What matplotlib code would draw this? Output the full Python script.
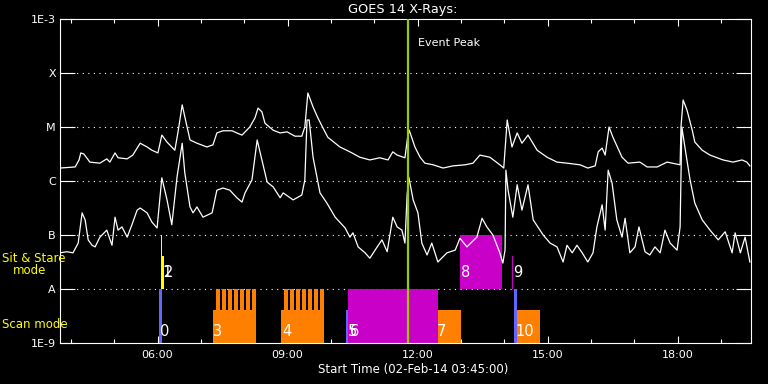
import numpy as np
import matplotlib
matplotlib.use('Agg')
import matplotlib.pyplot as plt

# GOES 14 X-ray flux, time in hours (UT) on 02-Feb-14, flux as log10(W/m^2)
long_t = [3.75, 4.10, 4.19, 4.23, 4.30, 4.44, 4.67, 4.83, 4.90, 5.02,
          5.09, 5.30, 5.43, 5.60, 5.76, 5.87, 6.01, 6.10, 6.22, 6.40,
          6.47, 6.57, 6.63, 6.75, 6.91, 7.14, 7.28, 7.37, 7.51, 7.72,
          7.83, 7.95, 8.13, 8.25, 8.32, 8.41, 8.48, 8.67, 8.83, 8.99,
          9.17, 9.33, 9.40, 9.47, 9.59, 9.70, 9.82, 9.93, 10.21, 10.44,
          10.67, 10.90, 11.13, 11.32, 11.43, 11.53, 11.71, 11.77, 11.81, 11.94,
          12.06, 12.17, 12.36, 12.59, 12.82, 13.10, 13.28, 13.44, 13.67, 13.90,
          13.99, 14.07, 14.18, 14.30, 14.41, 14.55, 14.76, 14.99, 15.22, 15.45,
          15.75, 15.93, 16.10, 16.17, 16.26, 16.33, 16.42, 16.51, 16.72, 16.86,
          17.13, 17.30, 17.53, 17.76, 18.06, 18.08, 18.13, 18.22, 18.34, 18.40,
          18.57, 18.75, 19.05, 19.28, 19.49, 19.60, 19.67]
long_lg = [-5.76, -5.74, -5.61, -5.48, -5.50, -5.65, -5.67, -5.59, -5.65, -5.48,
           -5.57, -5.59, -5.52, -5.30, -5.37, -5.43, -5.48, -5.15, -5.28, -5.43,
           -5.11, -4.59, -4.81, -5.24, -5.30, -5.37, -5.33, -5.11, -5.07, -5.07,
           -5.11, -5.15, -5.00, -4.83, -4.65, -4.72, -4.93, -5.06, -5.11, -5.09,
           -5.17, -5.17, -5.00, -4.37, -4.63, -4.83, -5.02, -5.19, -5.37, -5.46,
           -5.56, -5.61, -5.57, -5.61, -5.46, -5.52, -5.57, -5.20, -5.06, -5.37,
           -5.56, -5.67, -5.70, -5.76, -5.72, -5.70, -5.67, -5.52, -5.56, -5.70,
           -5.76, -4.87, -5.37, -5.11, -5.30, -5.15, -5.43, -5.56, -5.65, -5.67,
           -5.70, -5.76, -5.72, -5.46, -5.39, -5.52, -5.00, -5.19, -5.56, -5.67,
           -5.65, -5.74, -5.74, -5.65, -5.70, -5.00, -4.50, -4.69, -5.06, -5.28,
           -5.43, -5.52, -5.61, -5.65, -5.61, -5.65, -5.72]

short_t = [3.75, 3.91, 4.05, 4.17, 4.26, 4.33, 4.40, 4.49, 4.56, 4.67,
           4.83, 4.95, 5.02, 5.09, 5.18, 5.30, 5.41, 5.53, 5.60, 5.76,
           5.87, 5.99, 6.10, 6.22, 6.33, 6.45, 6.57, 6.63, 6.75, 6.82,
           6.91, 7.05, 7.26, 7.37, 7.51, 7.67, 7.83, 7.95, 8.02, 8.18,
           8.30, 8.41, 8.53, 8.67, 8.83, 8.90, 9.13, 9.33, 9.40, 9.45,
           9.50, 9.59, 9.75, 9.91, 10.10, 10.33, 10.44, 10.51, 10.63, 10.79,
           10.90, 11.07, 11.18, 11.30, 11.43, 11.53, 11.64, 11.71, 11.76, 11.80,
           11.90, 12.01, 12.10, 12.22, 12.33, 12.47, 12.68, 12.87, 12.98, 13.14,
           13.37, 13.49, 13.60, 13.74, 13.90, 13.97, 14.02, 14.04, 14.09, 14.20,
           14.30, 14.41, 14.55, 14.67, 14.90, 15.06, 15.22, 15.36, 15.45, 15.57,
           15.68, 15.80, 15.93, 16.05, 16.14, 16.26, 16.33, 16.40, 16.49, 16.60,
           16.72, 16.79, 16.90, 17.02, 17.11, 17.25, 17.36, 17.48, 17.60, 17.71,
           17.83, 17.99, 18.06, 18.10, 18.17, 18.29, 18.40, 18.57, 18.75, 18.94,
           19.10, 19.26, 19.33, 19.45, 19.56, 19.67]
short_lg = [-7.33, -7.31, -7.33, -7.15, -6.59, -6.72, -7.09, -7.19, -7.22, -7.04,
            -6.91, -7.19, -6.67, -6.91, -6.85, -7.04, -6.81, -6.54, -6.50, -6.59,
            -6.76, -6.87, -5.94, -6.35, -6.81, -5.93, -5.30, -5.85, -6.48, -6.59,
            -6.48, -6.67, -6.59, -6.17, -6.13, -6.17, -6.31, -6.39, -6.22, -5.98,
            -5.24, -5.61, -6.02, -6.11, -6.31, -6.22, -6.35, -6.26, -5.98, -4.87,
            -4.87, -5.56, -6.22, -6.41, -6.67, -6.87, -7.04, -6.96, -7.22, -7.33,
            -7.43, -7.22, -7.09, -7.31, -6.67, -6.85, -6.91, -7.15, -6.26, -5.93,
            -6.35, -6.59, -7.15, -7.37, -7.15, -7.50, -7.33, -7.28, -7.06, -7.22,
            -7.04, -6.69, -6.85, -7.00, -7.33, -7.52, -7.28, -5.80, -6.17, -6.67,
            -6.07, -6.54, -6.07, -6.72, -7.00, -7.15, -7.22, -7.50, -7.19, -7.33,
            -7.19, -7.33, -7.50, -7.33, -6.85, -6.44, -6.91, -5.80, -6.04, -6.72,
            -7.04, -6.69, -7.33, -7.22, -6.85, -7.31, -7.37, -7.22, -7.33, -6.91,
            -7.15, -7.28, -6.85, -5.00, -5.37, -5.98, -6.41, -6.72, -6.91, -7.09,
            -6.94, -7.33, -6.96, -7.33, -7.04, -7.50]

# observation blocks: start / end (hours), flux range, kind
obs_t0 = [7.29, 8.85, 12.45, 14.27, 10.40, 12.98, 14.18, 6.03, 10.35, 14.23, 6.08, 6.08]
obs_t1 = [8.27, 9.84, 13.00, 14.83, 12.47, 13.94, 14.21, 6.10, 10.40, 14.29, 6.115, 6.14]
obs_lo = [1e-9, 1e-9, 1e-9, 1e-9, 1e-9, 1e-8, 1e-8, 1e-9, 1e-9, 1e-9, 1e-8, 1e-8]
obs_hi = [4.1e-9, 4.1e-9, 4.1e-9, 4.1e-9, 1e-8, 1e-7, 4.1e-8, 1e-8, 4.1e-9, 1e-8, 1e-7, 4.1e-8]
obs_kind = ['raster', 'raster', 'raster', 'raster', 'multi', 'multi', 'multi',
            'scan', 'scan', 'scan', 'sit', 'sit']

# raster steps (start hours) drawn as comb teeth above rasters 3 and 4
step_t0 = [7.35, 7.49, 7.63, 7.77, 7.90, 8.04, 8.18,
           8.92, 9.06, 9.20, 9.34, 9.47, 9.61, 9.75]
step_len = 0.09

obs_labels = ['0', '1', '2', '3', '4', '5', '6', '7', '8', '9', '10']
label_t = [6.06, 6.11, 6.15, 7.29, 8.87, 10.40, 10.44, 12.45, 13.00, 14.20, 14.27]
label_row = ['scan', 'sit', 'sit', 'scan', 'scan', 'scan', 'scan', 'scan', 'sit', 'sit', 'scan']

peak_t = 11.78

yticks = [1e-9, 1e-8, 1e-7, 1e-6, 1e-5, 1e-4, 1e-3]
ylabels = ['1E-9', 'A', 'B', 'C', 'M', 'X', '1E-3']
xticks = [6, 9, 12, 15, 18]
xlabels = ['06:00', '09:00', '12:00', '15:00', '18:00']
xminor = list(range(4, 20))

colors = {'raster': '#ff8000', 'multi': '#c800c8', 'scan': '#6464ff',
          'sit': '#ffff00'}


def main():
    fig = plt.figure(figsize=(7.68, 3.84), dpi=100, facecolor='black')
    ax = fig.add_axes([60 / 768, 41 / 384, 691 / 768, 324 / 384])
    ax.set_facecolor('black')
    ax.set_yscale('log')
    ax.set_xlim(3.75, 19.696)
    ax.set_ylim(1e-9, 1e-3)

    for y in [1e-8, 1e-7, 1e-6, 1e-5, 1e-4]:
        ax.axhline(y, color='white', lw=0.8, linestyle=(0, (1, 4)), zorder=1)

    for t0, t1, lo, hi, kind in zip(obs_t0, obs_t1, obs_lo, obs_hi, obs_kind):
        ax.bar(t0, hi - lo, bottom=lo, width=t1 - t0, align='edge',
               color=colors[kind], linewidth=0, zorder=2)
    for t0 in step_t0:
        ax.bar(t0, 1e-8 - 4e-9, bottom=4e-9, width=step_len, align='edge',
               color=colors['raster'], linewidth=0, zorder=2)

    ax.plot(long_t, 10 ** np.array(long_lg), color='white', lw=0.9, zorder=3)
    ax.plot(short_t, 10 ** np.array(short_lg), color='white', lw=0.9, zorder=3)

    ax.axvline(peak_t, color='#99cc00', lw=1.6, zorder=4)
    ax.text(peak_t + 0.23, 10 ** -3.44, 'Event Peak', color='white',
            fontsize=8, va='center', ha='left')

    for lab, t, row in zip(obs_labels, label_t, label_row):
        y = 1.6e-9 if row == 'scan' else 2.0e-8
        ax.text(t, y, lab, color='white', fontsize=10.5, va='center',
                ha='left', zorder=5)

    for s in ax.spines.values():
        s.set_color('white')
        s.set_linewidth(0.8)

    ax.set_yticks(yticks)
    ax.set_yticklabels(ylabels)
    ax.yaxis.set_minor_locator(matplotlib.ticker.NullLocator())
    ax.tick_params(axis='y', which='major', direction='in', length=10.5,
                   width=0.8, color='white', labelcolor='white', labelsize=8,
                   left=True, right=True, pad=3)

    ax.set_xticks(xticks)
    ax.set_xticklabels(xlabels)
    ax.set_xticks(xminor, minor=True)
    ax.tick_params(axis='x', which='major', direction='in', length=5,
                   width=0.8, color='white', labelcolor='white', labelsize=8,
                   top=True, bottom=True, pad=5)
    ax.tick_params(axis='x', which='minor', direction='in', length=3,
                   width=0.8, color='white', top=True, bottom=True)

    fig.text(403 / 768, 1 - 10 / 384, 'GOES 14 X-Rays:', color='white',
             fontsize=9.3, ha='center', va='center')
    fig.text(413 / 768, 1 - 370 / 384, 'Start Time (02-Feb-14 03:45:00)',
             color='white', fontsize=8.5, ha='center', va='center')

    fig.text(2 / 768, 1 - 259 / 384, 'Sit & Stare', color='#ffff00',
             fontsize=8.5, ha='left', va='center')
    fig.text(13 / 768, 1 - 271 / 384, 'mode', color='#ffff00',
             fontsize=8.5, ha='left', va='center')
    fig.text(2 / 768, 1 - 324 / 384, 'Scan mode', color='#ffff00',
             fontsize=8.5, ha='left', va='center')

    fig.savefig('out.png', dpi=100, facecolor='black')


if __name__ == "__main__":
    main()
